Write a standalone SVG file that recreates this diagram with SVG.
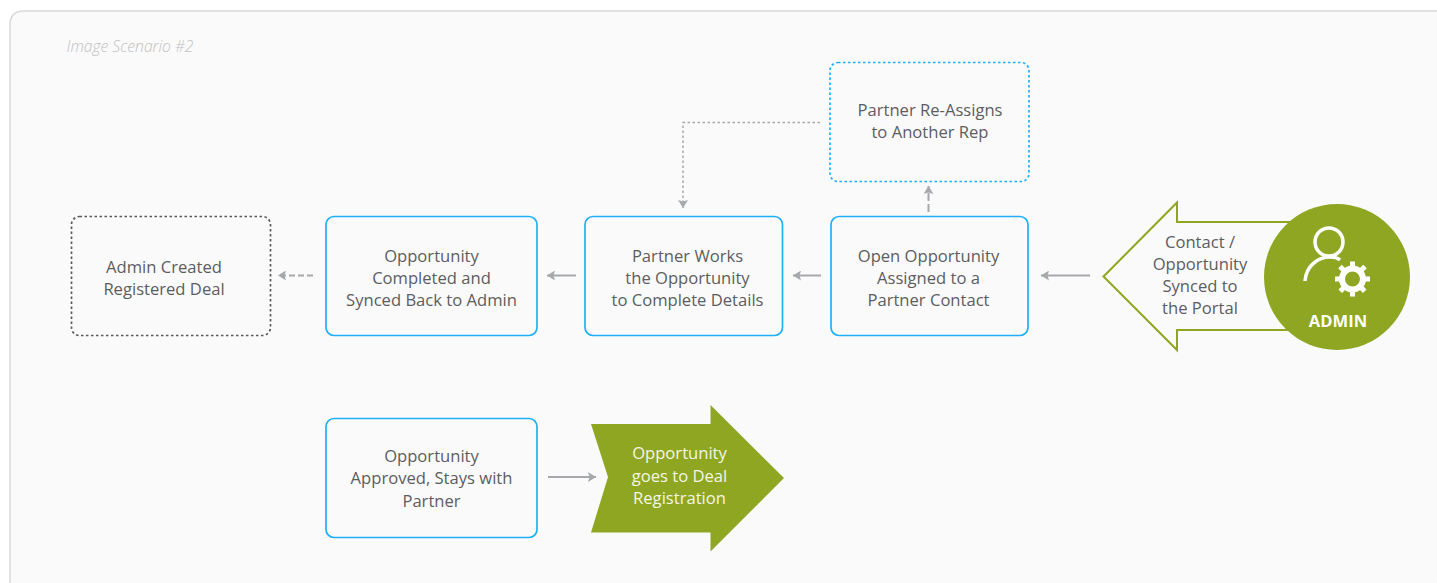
<svg xmlns="http://www.w3.org/2000/svg" width="1437" height="583" viewBox="0 0 1437 583">
<defs>
<marker id="ah" markerUnits="userSpaceOnUse" markerWidth="9" markerHeight="10" refX="8" refY="5" orient="auto"><path d="M0 0L8 5L0 10L1.500 5Z" fill="#a7a8ac"/></marker>
</defs>
<style>
text{font-family:"Open Sans","Noto Sans",sans-serif;font-size:16.600px;fill:#5c5d5f;text-anchor:middle}
.box{fill:#fafafa;stroke:#1eb0f6;stroke-width:1.700}
.dot{stroke-dasharray:2.500 2.500}
.conn{fill:none;stroke:#a7a8ac;stroke-width:2;marker-end:url(#ah)}
.lt{fill:#f4f6e6}
</style>
<rect width="1437" height="583" fill="#fff"/>
<path d="M1445 11H24Q10 11 10 25V595H1445Z" fill="#fafafa" stroke="#d9d9d9" stroke-width="1.500"/>
<text x="130" y="52" style="font-size:15.700px;font-style:italic;font-weight:300;fill:#bfc0c2">Image Scenario #2</text>
<g id="connectors">
<path class="conn" d="M1090 275.500H1041"/>
<path class="conn" d="M821 275.500H793"/>
<path class="conn" d="M576 275.500H547"/>
<path class="conn" style="stroke-dasharray:6 3" d="M313 275.500H278"/>
<path class="conn" style="stroke-dasharray:8 3" d="M928.500 212V186"/>
<path class="conn" style="stroke-width:1.500;stroke-dasharray:2.500 2.500" d="M820 122.500H683V208"/>
<path class="conn" d="M548 477H596"/>
</g>
<g id="node-registered"><rect class="box dot" x="71.500" y="216.500" width="199" height="119" rx="8" style="stroke:#58595b"/><text x="164" y="273">Admin Created</text><text x="164" y="295">Registered Deal</text></g>
<g id="node-completed"><rect class="box" x="326" y="216.500" width="211" height="119" rx="8"/><text x="431.500" y="262">Opportunity</text><text x="431.500" y="284">Completed and</text><text x="431.500" y="306">Synced Back to Admin</text></g>
<g id="node-works"><rect class="box" x="585" y="216.500" width="197.500" height="119" rx="8"/><text x="687.500" y="262">Partner Works</text><text x="687.500" y="284">the Opportunity</text><text x="687.500" y="306">to Complete Details</text></g>
<g id="node-open"><rect class="box" x="831" y="216.500" width="197" height="119" rx="8"/><text x="928.500" y="262">Open Opportunity</text><text x="928.500" y="284">Assigned to a</text><text x="928.500" y="306">Partner Contact</text></g>
<g id="node-reassign"><rect class="box dot" x="830" y="62.500" width="199" height="119" rx="8"/><text x="930" y="116">Partner Re-Assigns</text><text x="930" y="138">to Another Rep</text></g>
<g id="node-approved"><rect class="box" x="326" y="418.500" width="211" height="119" rx="8"/><text x="431.500" y="462">Opportunity</text><text x="431.500" y="484">Approved, Stays with</text><text x="431.500" y="507">Partner</text></g>
<g id="node-deal"><path d="M591 424H710.500V405L784 478L710.500 551.500V532.500H591L608 477Z" fill="#8ea621"/><text class="lt" x="679.500" y="459">Opportunity</text><text class="lt" x="679.500" y="482">goes to Deal</text><text class="lt" x="679.500" y="504">Registration</text></g>
<g id="node-admin">
<path d="M1300 222H1177V202.500L1103.500 276.500L1177 350V330H1300" fill="#fafafa" stroke="#8ea621" stroke-width="2"/>
<text x="1200" y="248">Contact /</text><text x="1200" y="270">Opportunity</text><text x="1200" y="292">Synced to</text><text x="1200" y="314">the Portal</text>
<circle cx="1337" cy="277" r="73" fill="#8ea621"/>
<g fill="none" stroke="#fff" stroke-width="3.500">
<circle cx="1329" cy="242" r="14"/>
<path d="M1305 281C1306 266 1318 257 1330 257C1335 257 1338 258 1340 260"/>
<circle cx="1352.500" cy="279" r="10.500" stroke-width="6"/>
<path d="M1352.500 261.500V296.500M1335 279H1370M1340 266.500L1365 291.500M1365 266.500L1340 291.500" stroke-width="5" stroke-dasharray="6 23"/>
</g>
<text x="1338" y="327" style="font-weight:700;fill:#fff">ADMIN</text>
</g>
</svg>
